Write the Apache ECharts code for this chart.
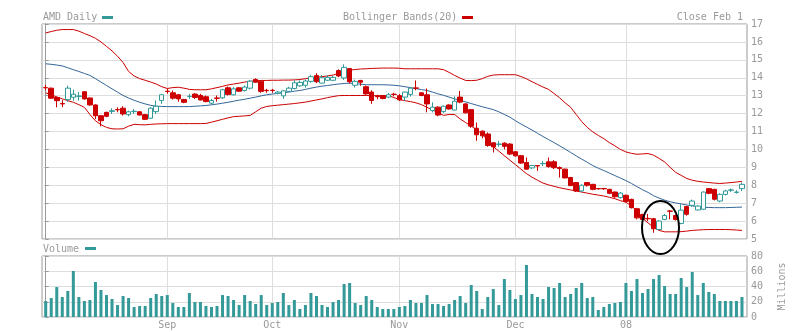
<!DOCTYPE html>
<html><head><meta charset="utf-8">
<script src="https://cdn.jsdelivr.net/npm/echarts@6/dist/echarts.min.js"></script>
<style>html,body{margin:0;padding:0;background:#fff}#c{width:803px;height:332px}</style>
</head><body><div id="c"></div>
<script>
// ---- data ----
const open = [13.45,13.42,12.90,12.56,12.78,12.91,12.96,13.22,12.87,12.48,
11.88,12.07,12.12,12.23,12.30,11.94,12.11,12.10,11.94,11.74,
12.11,12.73,13.25,13.16,13.05,12.79,12.95,13.09,13.01,12.94,
12.58,12.87,12.88,13.44,13.05,13.44,13.29,13.42,13.90,13.81,
13.30,13.30,13.13,12.99,13.24,13.40,13.55,13.58,13.80,14.12,
13.70,13.86,13.86,14.40,13.99,14.51,13.58,13.85,13.50,13.20,
12.96,13.00,12.92,13.08,13.00,12.92,13.07,13.43,13.16,13.05,
12.17,12.36,12.11,12.48,12.20,12.92,12.54,12.22,11.18,11.02,
10.86,10.37,10.28,10.35,10.30,9.87,9.65,9.27,8.97,9.10,
9.20,9.31,9.31,8.99,8.90,8.43,8.15,7.68,8.15,8.05,
7.82,7.82,7.77,7.62,7.31,7.44,7.21,6.69,6.37,6.15,
6.13,5.53,6.09,6.56,6.31,5.87,6.81,6.88,6.62,6.66,
7.81,7.77,7.12,7.49,7.72,7.60,7.81];
const close = [13.44,12.86,12.72,12.54,13.42,13.08,12.98,12.82,12.48,11.88,
11.60,11.85,12.16,12.21,11.98,12.10,12.13,11.92,11.68,12.30,
12.41,13.05,13.23,12.86,12.82,12.63,12.97,12.90,12.76,12.67,
12.73,12.85,13.33,13.07,13.38,13.25,13.48,13.81,13.75,13.24,
13.28,13.29,13.20,13.27,13.42,13.72,13.74,13.82,14.06,13.78,
14.00,14.02,14.02,14.10,14.58,13.78,13.80,13.75,13.10,12.73,
12.94,12.84,13.05,13.07,12.77,13.20,13.42,13.42,13.01,12.54,
12.36,11.92,12.41,12.26,12.69,12.64,12.04,11.30,10.82,10.76,
10.22,10.14,10.30,10.17,9.74,9.64,9.24,8.90,9.10,9.08,
9.22,9.04,8.98,8.93,8.41,7.98,7.68,8.00,8.00,7.77,
7.80,7.80,7.55,7.36,7.56,7.10,6.75,6.18,6.09,6.13,
5.57,6.00,6.31,6.55,6.09,6.61,6.38,7.12,6.84,7.62,
7.55,7.22,7.49,7.68,7.74,7.62,8.05];
const low = [13.30,12.82,12.35,12.36,12.66,12.72,12.72,12.78,12.45,11.69,
11.29,11.80,11.98,12.07,11.89,11.85,11.98,11.90,11.64,11.70,
11.98,12.54,13.11,12.78,12.66,12.58,12.82,12.82,12.73,12.63,
12.52,12.67,12.82,13.01,13.01,13.22,13.23,13.35,13.72,13.16,
13.16,13.16,13.07,12.82,13.20,13.35,13.50,13.45,13.72,13.70,
13.68,13.82,13.82,14.04,13.88,13.68,13.45,13.55,13.05,12.54,
12.80,12.80,12.86,12.97,12.70,12.70,12.95,13.30,12.97,12.07,
12.07,11.85,12.04,12.22,12.17,12.58,12.00,11.20,10.48,10.62,
10.15,9.83,10.15,10.00,9.68,9.60,9.20,8.86,8.90,8.80,
9.07,8.98,8.90,8.43,8.38,7.95,7.62,7.62,7.92,7.72,
7.75,7.75,7.50,7.30,7.25,7.06,6.70,6.10,6.05,6.00,
5.35,5.50,6.05,6.10,6.03,5.82,6.30,6.80,6.60,6.62,
7.50,7.15,7.05,7.43,7.62,7.53,7.68];
const high = [13.60,13.45,12.95,12.75,13.56,13.34,13.20,13.25,12.90,12.52,
11.92,12.10,12.30,12.35,12.41,12.16,12.26,12.12,11.98,12.35,
12.73,13.10,13.38,13.29,13.10,12.82,13.10,13.14,13.10,13.01,
12.82,13.01,13.38,13.51,13.48,13.47,13.57,13.88,13.97,13.85,
13.38,13.38,13.26,13.30,13.50,13.85,13.85,13.90,14.17,14.25,
14.15,14.15,14.10,14.47,14.75,14.55,13.90,13.88,13.57,13.30,
13.05,13.03,13.15,13.16,13.10,13.22,13.48,13.85,13.20,13.40,
12.63,12.40,12.45,12.52,12.96,13.26,12.58,12.26,11.50,11.06,
10.95,10.40,10.48,10.40,10.35,9.90,9.68,9.55,9.14,9.13,
9.35,9.55,9.40,9.05,8.93,8.47,8.18,8.05,8.18,8.08,
7.85,7.85,7.80,7.65,7.62,7.48,7.25,6.74,6.41,6.40,
6.18,6.05,6.40,6.62,6.35,6.94,6.85,7.20,6.90,7.65,
7.85,7.80,7.55,7.75,7.82,7.72,8.15];
const volume = [21,24.9,39.3,26.2,34.1,60.3,26.2,21,22.3,45.9,
35.4,28.8,23.6,15.7,27.5,24.9,13.1,14.4,14.4,24.9,
30.2,27.5,28.8,18.4,13.1,13.1,31.5,19.7,19.7,14.4,
13.1,14.4,28.8,27.5,22.3,15.7,28.8,21,17,28.8,
15.7,18.4,19.7,31.5,15.7,22.3,10.5,15.7,31.5,27.5,
15.7,13.1,19.7,22.3,43.3,44.6,18.4,15.7,27.5,22.3,
13.1,10.5,10.5,10.5,13.1,14.4,22.3,18.4,18.4,28.8,
17,17,14.4,17,22.3,27.5,18.4,42,34.1,10.5,
26.2,36.7,15.7,49.8,35.4,23.6,28.8,68.2,30.2,26.2,
23.6,39.3,38,44.6,26.2,30.2,38,44.6,24.9,26.2,
9.2,13.1,17,18.4,19.7,44.6,34.1,49.8,31.5,36.7,
49.8,55.1,40.6,30.2,30.2,51.1,39.3,59,28.8,44.6,
32.8,30.2,21,21,21,21,26.2];
const bbUpper = [16.50,16.58,16.65,16.69,16.69,16.69,16.60,16.47,16.35,16.20,
16.00,15.75,15.50,15.20,14.85,14.35,14.10,13.95,13.86,13.76,
13.65,13.50,13.40,13.45,13.47,13.42,13.35,13.33,13.33,13.33,
13.38,13.45,13.52,13.60,13.65,13.70,13.76,13.80,13.83,13.85,
13.85,13.86,13.86,13.87,13.87,13.88,13.90,13.95,14.00,14.03,
14.06,14.10,14.15,14.25,14.35,14.42,14.46,14.49,14.50,14.52,
14.53,14.54,14.54,14.54,14.53,14.50,14.50,14.50,14.50,14.50,
14.50,14.50,14.45,14.30,14.13,13.98,13.85,13.84,13.86,13.95,
14.08,14.15,14.17,14.17,14.17,14.17,14.07,13.94,13.78,13.63,
13.48,13.35,13.12,12.88,12.60,12.35,11.95,11.55,11.23,10.98,
10.78,10.60,10.38,10.20,10.00,9.86,9.78,9.73,9.75,9.77,
9.68,9.50,9.30,9.00,8.72,8.55,8.38,8.28,8.22,8.18,
8.15,8.12,8.10,8.12,8.15,8.18,8.22];
const bbMiddle = [14.78,14.75,14.71,14.66,14.56,14.45,14.35,14.24,14.13,13.95,
13.76,13.57,13.38,13.20,13.01,12.87,12.74,12.63,12.54,12.46,
12.41,12.40,12.39,12.39,12.39,12.39,12.39,12.41,12.43,12.45,
12.49,12.53,12.58,12.63,12.69,12.75,12.80,12.86,12.92,12.99,
13.05,13.09,13.13,13.16,13.20,13.25,13.29,13.35,13.42,13.48,
13.53,13.57,13.61,13.65,13.68,13.70,13.67,13.64,13.61,13.61,
13.61,13.61,13.60,13.58,13.55,13.50,13.45,13.39,13.34,13.29,
13.20,13.10,13.02,12.92,12.82,12.74,12.65,12.56,12.47,12.38,
12.30,12.22,12.10,11.95,11.80,11.60,11.42,11.25,11.08,10.90,
10.72,10.55,10.38,10.20,10.02,9.83,9.64,9.46,9.28,9.10,
8.95,8.82,8.68,8.54,8.40,8.26,8.10,7.92,7.75,7.60,
7.42,7.28,7.17,7.08,7.01,6.96,6.90,6.85,6.80,6.77,
6.76,6.75,6.75,6.75,6.76,6.77,6.78];
const bbLower = [13.16,13.05,12.93,12.82,12.72,12.63,12.50,12.35,11.95,11.60,
11.38,11.23,11.15,11.14,11.15,11.30,11.40,11.38,11.37,11.40,
11.42,11.43,11.44,11.44,11.44,11.44,11.44,11.44,11.44,11.45,
11.52,11.60,11.68,11.76,11.83,11.85,11.87,11.90,12.10,12.30,
12.40,12.44,12.47,12.50,12.53,12.56,12.60,12.64,12.70,12.76,
12.82,12.89,12.95,13.00,13.01,13.01,13.01,13.01,13.01,13.00,
13.00,13.00,13.00,12.90,12.78,12.72,12.67,12.60,12.50,12.35,
12.20,12.05,11.90,11.95,11.95,11.70,11.50,11.30,11.10,10.85,
10.50,10.15,9.90,9.65,9.40,9.15,8.90,8.65,8.45,8.28,
8.12,8.02,7.94,7.86,7.80,7.74,7.68,7.62,7.56,7.50,
7.45,7.40,7.33,7.25,7.14,7.05,6.85,6.56,6.15,5.90,
5.65,5.48,5.40,5.40,5.40,5.41,5.44,5.48,5.50,5.52,
5.53,5.53,5.53,5.53,5.52,5.50,5.48];
const monthStarts = [22, 41, 64, 85, 105];
const monthLabels = ['Sep', 'Oct', 'Nov', 'Dec', '08'];

// ---- chart ----
const GRAY = '#999999', GRIDC = '#dddddd', TEAL = '#339999', RED = '#cc0000', BLUE = '#336699';
const FONT = '"DejaVu Sans Mono", monospace';
const candles = open.map((o, i) => [i, o, close[i], low[i], high[i]]);
const idx = v => v.map((y, i) => [i, y]);

const chart = echarts.init(document.getElementById('c'), null, {renderer: 'canvas'});
const xBase = (grid, labels) => ({
  type: 'value', gridIndex: grid, min: -0.67, max: 126.91,
  axisLine: {show: false},
  axisTick: {show: false, customValues: monthStarts},
  splitLine: {show: true, lineStyle: {color: GRIDC, width: 1}},
  axisLabel: {show: labels, customValues: monthStarts, color: GRAY, fontFamily: FONT, fontSize: 10, margin: 3,
    formatter: v => monthLabels[monthStarts.indexOf(Math.round(v))] || ''}
});
chart.setOption({
  animation: false,
  backgroundColor: '#ffffff',
  grid: [
    {left: 42, top: 24, width: 705, height: 215, show: true, borderColor: GRAY, borderWidth: 1, backgroundColor: 'transparent'},
    {left: 42, top: 256, width: 705, height: 61, show: true, borderColor: GRAY, borderWidth: 1, backgroundColor: 'transparent'}
  ],
  xAxis: [xBase(0, false), xBase(1, true)],
  yAxis: [
    {type: 'value', gridIndex: 0, position: 'right', min: 5, max: 17, interval: 1,
     axisLine: {show: true, lineStyle: {color: GRAY}},
     axisTick: {show: true, length: 3, lineStyle: {color: GRAY}},
     axisLabel: {color: GRAY, fontFamily: FONT, fontSize: 10, margin: 4},
     splitLine: {show: true, lineStyle: {color: GRIDC}}},
    {type: 'value', gridIndex: 1, position: 'right', min: 0, max: 80, interval: 20,
     axisLine: {show: true, lineStyle: {color: GRAY}},
     axisTick: {show: true, length: 3, lineStyle: {color: GRAY}},
     axisLabel: {color: GRAY, fontFamily: FONT, fontSize: 10, margin: 4},
     splitLine: {show: true, lineStyle: {color: GRIDC}},
     name: 'Millions', nameLocation: 'middle', nameRotate: 90, nameGap: 30,
     nameTextStyle: {color: GRAY, fontFamily: FONT, fontSize: 10}}
  ],
  series: [
    {type: 'line', xAxisIndex: 0, yAxisIndex: 0, data: idx(bbUpper), showSymbol: false, symbol: 'none',
     lineStyle: {color: RED, width: 1}, z: 2, silent: true},
    {type: 'line', xAxisIndex: 0, yAxisIndex: 0, data: idx(bbMiddle), showSymbol: false, symbol: 'none',
     lineStyle: {color: BLUE, width: 1}, z: 2, silent: true},
    {type: 'line', xAxisIndex: 0, yAxisIndex: 0, data: idx(bbLower), showSymbol: false, symbol: 'none',
     lineStyle: {color: RED, width: 1}, z: 2, silent: true},
    {type: 'candlestick', xAxisIndex: 0, yAxisIndex: 0, data: candles, barWidth: 5, z: 3,
     itemStyle: {color: '#ffffff', color0: RED, borderColor: TEAL, borderColor0: RED, borderWidth: 1}},
    {type: 'bar', xAxisIndex: 1, yAxisIndex: 1, data: idx(volume), barWidth: 3,
     itemStyle: {color: TEAL}}
  ],
  graphic: [
    {type: 'text', left: 43, top: 12, style: {text: 'AMD Daily', fill: GRAY, font: '10px ' + FONT}},
    {type: 'rect', shape: {x: 102, y: 16, width: 11, height: 3}, style: {fill: TEAL}},
    {type: 'text', left: 343, top: 12, style: {text: 'Bollinger Bands(20)', fill: GRAY, font: '10px ' + FONT}},
    {type: 'rect', shape: {x: 462, y: 16, width: 11, height: 3}, style: {fill: RED}},
    {type: 'text', right: 60, top: 12, style: {text: 'Close Feb 1', fill: GRAY, font: '10px ' + FONT}},
    {type: 'text', left: 43, top: 244, style: {text: 'Volume', fill: GRAY, font: '10px ' + FONT}},
    {type: 'rect', shape: {x: 85, y: 247, width: 11, height: 3}, style: {fill: TEAL}},
    {type: 'ellipse', shape: {cx: 660.5, cy: 227.5, rx: 18.5, ry: 26.5}, z: 100,
     style: {fill: 'none', stroke: '#000000', lineWidth: 2}}
  ]
});
</script>
</body></html>
